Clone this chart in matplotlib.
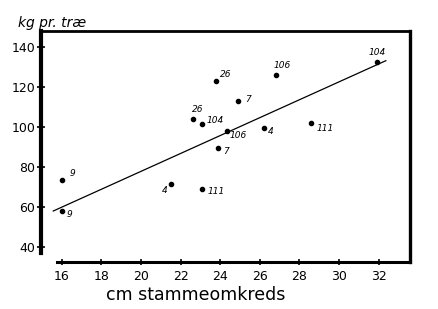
import matplotlib
matplotlib.use("Agg")
import matplotlib.pyplot as plt

# Data (stem circumference cm, kg per tree, tree label)
circumference = [16.0, 16.0, 21.5, 23.1, 23.8, 26.8, 24.9, 22.6, 23.1, 24.35, 26.2, 28.6, 23.9, 31.9]
yield_kg = [73.6, 58.3, 71.6, 69.1, 123.3, 126.1, 113.3, 104.1, 101.5, 98.1, 99.5, 102.3, 89.5, 132.5]
tree_labels = ["9", "9", "4", "111", "26", "106", "7", "26", "104", "106", "4", "111", "7", "104"]

# Regression line endpoints as drawn
line_x = [15.57, 32.36]
line_y = [58.1, 133.25]

x_ticks = [16, 18, 20, 22, 24, 26, 28, 30, 32]
y_ticks = [40, 60, 80, 100, 120, 140]

# label offsets in points and alignment (style only)
offsets = [(5.5, 4.8), (3.6, -3.1), (-2.4, -4.8), (3.6, -1.9), (2.4, 4.1), (-1.4, 7.2),
           (4.8, 0.5), (-0.4, 6.5), (3.2, 2.6), (1.9, -2.9), (2.9, -2.4), (3.6, -4.0),
           (3.6, -2.4), (0, 7.2)]
aligns = ["left", "left", "right", "left", "left", "left", "left", "left", "left",
          "left", "left", "left", "left", "center"]

fig = plt.figure(figsize=(4.39, 3.09), dpi=100)
ax = fig.add_axes([41/439, 1-262/309, (410-41)/439, (262-31)/309])
ax.set_xlim(14.95, 33.58)
ax.set_ylim(32.6, 148.1)

ax.plot(line_x, line_y, color="black", lw=0.9)
ax.plot(circumference, yield_kg, "o", color="black", ms=3)

hand = ["DejaVu Sans"]
for x, y, lab, off, ha in zip(circumference, yield_kg, tree_labels, offsets, aligns):
    ax.annotate(lab, (x, y), xytext=off, textcoords="offset points",
                fontsize=6.5, fontstyle="italic", family=hand,
                ha=ha, va="center")

ax.spines["left"].set_linewidth(3)
ax.spines["bottom"].set_linewidth(2.2)
ax.spines["top"].set_linewidth(2)
ax.spines["right"].set_linewidth(2.4)
ax.spines["left"].set_bounds(37.1, 148.1)
ax.spines["bottom"].set_bounds(15.76, 33.58)

ax.set_xticks(x_ticks)
ax.set_yticks(y_ticks)
ax.set_xticklabels([str(v) for v in x_ticks], fontsize=9, family=hand)
ax.set_yticklabels([str(v) for v in y_ticks], fontsize=9, family=hand)
ax.tick_params(axis="y", direction="inout", length=6, width=1.2, pad=1)
ax.tick_params(axis="x", direction="inout", length=4, width=1.2, pad=4)

fig.text(18/439, 1-27/309, "kg pr. træ", fontsize=10, fontstyle="italic",
         family=hand, ha="left", va="baseline")
fig.text(196/439, 1-300/309, "cm stammeomkreds", fontsize=12.5,
         family=hand, ha="center", va="baseline")

fig.savefig("out.png", dpi=100)
